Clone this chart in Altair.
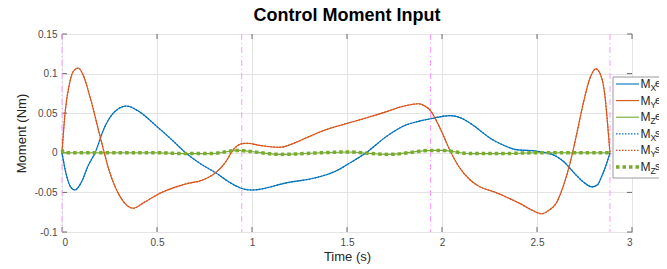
import altair as alt
import pandas as pd

title = "Control Moment Input"
x_title = "Time (s)"
y_title = "Moment (Nm)"
x_ticks = [0, 0.5, 1, 1.5, 2, 2.5, 3]
y_ticks = [-0.1, -0.05, 0, 0.05, 0.1, 0.15]
seg_times = [0, 0.946, 1.940, 2.884]

t_mx = [0, 0.02, 0.045, 0.068, 0.1, 0.14, 0.174, 0.22, 0.27, 0.34, 0.4, 0.5, 0.58, 0.656,
        0.73, 0.814, 0.88, 0.946, 1.0, 1.18, 1.36, 1.45, 1.5, 1.6, 1.71, 1.81, 1.88, 1.94,
        2.04, 2.1, 2.15, 2.27, 2.33, 2.39, 2.5, 2.59, 2.64, 2.69, 2.74, 2.79, 2.82, 2.84,
        2.86, 2.884]
mx = [0, -0.025, -0.043, -0.047, -0.038, -0.015, 0, 0.03, 0.05, 0.059, 0.053, 0.033, 0.016,
      -0.001, -0.014, -0.026, -0.037, -0.045, -0.047, -0.038, -0.030, -0.022, -0.015, 0,
      0.021, 0.035, 0.040, 0.043, 0.047, 0.044, 0.037, 0.016, 0.009, 0.004, 0.002, -0.003,
      -0.011, -0.024, -0.036, -0.043, -0.040, -0.030, -0.018, 0]

t_my = [0, 0.016, 0.04, 0.06, 0.086, 0.11, 0.147, 0.2, 0.253, 0.305, 0.34, 0.375, 0.43,
        0.516, 0.6, 0.656, 0.744, 0.814, 0.86, 0.902, 0.94, 0.972, 1.05, 1.147, 1.22,
        1.305, 1.4, 1.498, 1.6, 1.709, 1.8, 1.876, 1.91, 1.937, 1.99, 2.04, 2.09, 2.147,
        2.2, 2.27, 2.34, 2.41, 2.47, 2.525, 2.56, 2.6, 2.64, 2.674, 2.71, 2.744, 2.78, 2.81,
        2.84, 2.858, 2.872, 2.884]
my = [0, 0.05, 0.088, 0.103, 0.107, 0.099, 0.071, 0.021, -0.026, -0.055, -0.066, -0.070,
      -0.063, -0.051, -0.043, -0.039, -0.034, -0.024, -0.012, 0.004, 0.011, 0.012, 0.009,
      0.007, 0.012, 0.021, 0.030, 0.037, 0.044, 0.052, 0.059, 0.062, 0.059, 0.054, 0.031,
      0.004, -0.018, -0.034, -0.043, -0.049, -0.056, -0.064, -0.072, -0.077, -0.073,
      -0.064, -0.041, -0.013, 0.025, 0.063, 0.095, 0.106, 0.095, 0.071, 0.035, 0]

t_mz = [0, 0.01, 0.3, 0.5, 0.65, 0.78, 0.93, 0.98, 1.15, 1.36, 1.5, 1.72, 1.95, 2.0, 2.15,
        2.3, 2.5, 2.884]
mz = [0.004, 0, 0, 0, -0.001, -0.001, 0.003, 0.002, -0.002, 0, 0.001, -0.002, 0.003, 0.003,
      -0.001, -0.001, 0, 0]

legend_main = ["M", "M", "M", "M", "M", "M"]
legend_sub = ["X", "Y", "Z", "X", "Y", "Z"]
legend_suffix = ["es", "es", "es", "sir", "sir", "sir"]

W, H = 570, 198
FONT = "Liberation Sans"
colors = {"X": "#0072BD", "Y": "#D95319", "Z": "#77AC30"}

x_scale = alt.Scale(domain=[0, 3], nice=False, zero=False)
y_scale = alt.Scale(domain=[-0.1, 0.15], nice=False, zero=False)

x_axis = alt.Axis(values=x_ticks, title=x_title, grid=True, gridColor="#e4e4e4", domain=False,
                  ticks=False, labelFontSize=10, labelColor="#4a4a4a", labelPadding=5,
                  labelFont=FONT, titleFont=FONT, titleFontSize=13, titleColor="#262626",
                  titleFontWeight="normal", titlePadding=3, labelExpr="toString(datum.value)")
y_axis = alt.Axis(values=y_ticks, title=y_title, grid=True, gridColor="#e4e4e4", domain=False,
                  ticks=False, labelFontSize=10, labelColor="#4a4a4a", labelPadding=5,
                  labelFont=FONT, titleFont=FONT, titleFontSize=13, titleColor="#262626",
                  titleFontWeight="normal", titlePadding=6, labelExpr="toString(datum.value)")


def line_layer(t, v, color, dash, width):
    df = pd.DataFrame({"t": t, "v": v})
    kw = dict(color=color, strokeWidth=width, interpolate="monotone")
    if dash:
        kw["strokeDash"] = dash
    return alt.Chart(df).mark_line(**kw).encode(
        x=alt.X("t:Q", scale=x_scale, axis=x_axis),
        y=alt.Y("v:Q", scale=y_scale, axis=y_axis),
    )


layers = []
xt_df = pd.DataFrame({"t": x_ticks})
yt_df = pd.DataFrame({"v": y_ticks})
# inward ticks on all four sides
for y0, y1 in [(H, H - 5), (0, 5)]:
    layers.append(alt.Chart(xt_df).mark_rule(color="#6b6b6b", strokeWidth=1).encode(
        x=alt.X("t:Q", scale=x_scale, axis=x_axis), y=alt.value(y0), y2=alt.value(y1)))
for x0, x1 in [(0, 5), (W, W - 5)]:
    layers.append(alt.Chart(yt_df).mark_rule(color="#6b6b6b", strokeWidth=1).encode(
        y=alt.Y("v:Q", scale=y_scale, axis=y_axis), x=alt.value(x0), x2=alt.value(x1)))

# segment boundaries
seg_df = pd.DataFrame({"t": seg_times})
layers.append(alt.Chart(seg_df).mark_rule(color="#ff99ff", strokeWidth=1,
                                          strokeDash=[6, 3, 1, 3]).encode(
    x=alt.X("t:Q", scale=x_scale, axis=x_axis)))

# estimated (solid) then simulated (dotted)
layers.append(line_layer(t_mx, mx, colors["X"], None, 1.1))
layers.append(line_layer(t_my, my, colors["Y"], None, 1.1))
layers.append(line_layer(t_mz, mz, colors["Z"], None, 1.1))
layers.append(line_layer(t_mx, mx, colors["X"], [1.5, 1.5], 1.3))
layers.append(line_layer(t_my, my, colors["Y"], [1.5, 1.5], 1.3))
layers.append(line_layer(t_mz, mz, colors["Z"], [3.5, 3], 3.5))

# legend (manual, to allow subscripts)
one = pd.DataFrame({"k": [0]})
lx0, ly0, ly1 = 551, 43, 144
layers.append(alt.Chart(one).mark_rect(fill="white", stroke="#9a9a9a", strokeWidth=1).encode(
    x=alt.value(lx0), x2=alt.value(lx0 + 120), y=alt.value(ly0), y2=alt.value(ly1)))
dashes = [None, None, None, [1.5, 1.5], [1.5, 1.5], [3.5, 3]]
widths = [1.1, 1.1, 1.1, 1.3, 1.3, 3.5]
for i in range(6):
    yy = 50 + i * 16.6
    c = colors[legend_sub[i]]
    kw = dict(color=c, strokeWidth=widths[i])
    if dashes[i]:
        kw["strokeDash"] = dashes[i]
    layers.append(alt.Chart(one).mark_rule(**kw).encode(
        x=alt.value(lx0 + 3), x2=alt.value(lx0 + 26), y=alt.value(yy)))
    for txt, dx, dy, fs in [(legend_main[i], 27.5, 0, 12), (legend_sub[i], 37.5, 4, 8.5),
                            (legend_suffix[i], 42, 0, 11)]:
        layers.append(alt.Chart(pd.DataFrame({"s": [txt]})).mark_text(
            align="left", baseline="middle", fontSize=fs, font=FONT, color="#262626").encode(
            text="s:N", x=alt.value(lx0 + dx), y=alt.value(yy + dy)))

chart = alt.layer(*layers).properties(
    width=W, height=H,
    title=alt.TitleParams(title, fontSize=18, fontWeight="bold", font=FONT, color="#000000",
                          anchor="middle", offset=4),
    autosize=alt.AutoSizeParams(type="none"),
    padding={"left": 54, "top": 26, "right": 27, "bottom": 35},
).configure_view(stroke="#6b6b6b", strokeWidth=1)

chart.save("out.html", embed_options={"renderer": "svg", "actions": False})
